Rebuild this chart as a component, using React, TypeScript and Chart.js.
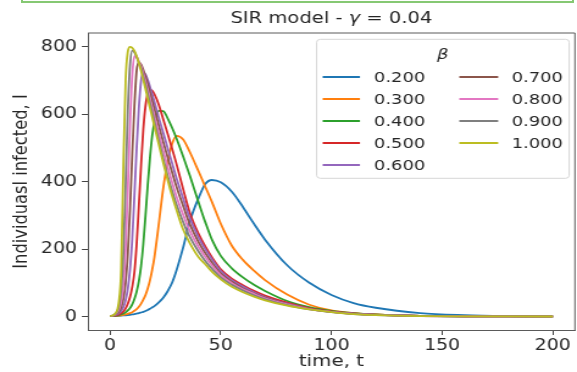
import React, { useEffect, useRef } from "react";
import { Chart, registerables } from "chart.js";

Chart.register(...registerables);

// ---- data ----
const T = [0, 2, 4, 5, 6, 7, 8, 9, 10, 11, 12, 13, 14, 15, 16, 17, 18, 19, 20, 22, 24, 26, 28, 30, 33, 36, 40, 43, 46, 50, 55, 60, 65, 70, 80, 90, 100, 110, 120, 140, 160, 180, 200];

const I_020 = [1, 1.5, 2.2, 2.6, 3.1, 3.7, 4.4, 5.2, 6.2, 7.3, 8.6, 10, 12, 14, 16.5, 19.5, 23, 27, 31, 42, 56, 75, 100, 137, 205, 282, 352, 393, 405, 398, 370, 325, 275, 228, 152, 100, 64, 40, 26, 10, 4, 1.5, 0.6];
const I_030 = [1, 1.7, 2.8, 3.6, 4.7, 6, 7.8, 10, 13, 17, 22, 29, 38, 50, 64, 83, 107, 138, 175, 275, 380, 460, 512, 536, 525, 488, 430, 385, 340, 275, 210, 168, 136, 108, 65, 35, 18, 10, 6, 2, 0.8, 0.3, 0.1];
const I_040 = [1, 2, 4.2, 6, 8.7, 12.4, 18, 25, 36, 52, 74, 105, 150, 215, 300, 390, 470, 535, 575, 610, 609, 588, 560, 528, 475, 418, 338, 280, 228, 180, 143, 116, 94, 76, 46, 28, 17, 10, 6, 2, 0.7, 0.3, 0.1];
const I_050 = [1, 2.5, 6, 9.5, 15, 24, 38, 58, 88, 132, 215, 330, 450, 555, 625, 662, 672, 670, 660, 628, 585, 542, 498, 452, 378, 308, 245, 208, 176, 140, 112, 93, 76, 62, 41, 25, 15, 9, 5.5, 2, 0.8, 0.3, 0.1];
const I_060 = [1, 3, 9.4, 16, 28, 48, 82, 140, 230, 360, 500, 620, 700, 724, 718, 702, 682, 660, 637, 590, 545, 500, 455, 410, 350, 292, 234, 200, 170, 135, 108, 89, 72, 58, 38, 23, 14, 8.5, 5, 1.8, 0.7, 0.3, 0.1];
const I_070 = [1, 3.7, 14, 27, 52, 100, 185, 320, 480, 625, 730, 754, 748, 732, 712, 690, 666, 641, 616, 566, 518, 472, 428, 385, 328, 274, 220, 188, 160, 128, 103, 84, 69, 56, 37, 23, 14, 8, 4.8, 1.7, 0.6, 0.2, 0.1];
const I_080 = [1, 4.6, 21, 45, 96, 200, 380, 570, 715, 772, 770, 756, 742, 720, 697, 672, 646, 620, 594, 542, 492, 444, 398, 355, 302, 254, 206, 177, 152, 123, 99, 81, 67, 54, 36, 22, 13.5, 8, 4.7, 1.6, 0.6, 0.2, 0.1];
const I_090 = [1, 5.6, 31, 80, 190, 390, 610, 745, 789, 784, 770, 753, 735, 711, 686, 660, 633, 606, 578, 522, 468, 418, 373, 332, 280, 236, 192, 165, 142, 116, 94, 77, 63, 51, 34, 21, 13, 7.5, 4.5, 1.5, 0.5, 0.2, 0.1];
const I_100 = [1, 6.8, 46, 140, 450, 700, 785, 800, 797, 788, 772, 752, 728, 702, 675, 647, 619, 592, 565, 510, 456, 405, 358, 316, 258, 218, 176, 155, 133, 110, 88, 72, 59, 48, 32, 21, 13, 7, 4.2, 1.4, 0.5, 0.2, 0.1];

const SERIES = [I_020, I_030, I_040, I_050, I_060, I_070, I_080, I_090, I_100];
const BETA_LABELS = ["0.200", "0.300", "0.400", "0.500", "0.600", "0.700", "0.800", "0.900", "1.000"];
const COLORS = ["#1f77b4", "#ff7f0e", "#2ca02c", "#d62728", "#9467bd", "#8c564b", "#e377c2", "#7f7f7f", "#bcbd22"];
const X_TICKS = [0, 50, 100, 150, 200];
const Y_TICKS = [0, 200, 400, 600, 800];

// ---- layout ----
const CW = 473;
const CH = 372;
const SX = 577 / CW;
const FONT = '"DejaVu Sans", "Liberation Sans", sans-serif';
const TICK_FS = 15.5;
const LABEL_FS = 16.3;
const LEGEND_FS = 14.7;
const TITLE_FS = 16;
const TEXT = "#262626";

export default function App() {
  const ref = useRef<HTMLCanvasElement>(null);

  useEffect(() => {
    const canvas = ref.current!;
    Chart.defaults.font.family = FONT;

    const datasets = SERIES.map((vals, i) => ({
      label: BETA_LABELS[i],
      data: T.map((t, k) => ({ x: t, y: vals[k] })),
      borderColor: COLORS[i],
      backgroundColor: COLORS[i],
      borderWidth: 1.8,
      pointRadius: 0,
      fill: false,
      cubicInterpolationMode: "monotone" as const,
      order: SERIES.length - 1 - i,
    }));

    const decor = {
      id: "decor",
      afterDraw(chart: any) {
        const ctx = chart.ctx as CanvasRenderingContext2D;
        const a = chart.chartArea;
        ctx.save();
        // top & right spines
        ctx.strokeStyle = "#5a5a5a";
        ctx.lineWidth = 1;
        ctx.beginPath();
        ctx.moveTo(a.left, a.top);
        ctx.lineTo(a.right, a.top);
        ctx.lineTo(a.right, a.bottom);
        ctx.stroke();

        // title
        const cx = (a.left + a.right) / 2;
        const parts: [string, string][] = [
          ["SIR model - ", `${TITLE_FS}px ${FONT}`],
          ["\u03b3", `italic ${TITLE_FS}px ${FONT}`],
          [" = 0.04", `${TITLE_FS}px ${FONT}`],
        ];
        let tw = 0;
        for (const [s, f] of parts) { ctx.font = f; tw += ctx.measureText(s).width; }
        let x = cx - tw / 2;
        ctx.fillStyle = TEXT;
        ctx.textAlign = "left";
        ctx.textBaseline = "alphabetic";
        for (const [s, f] of parts) { ctx.font = f; ctx.fillText(s, x, 23); x += ctx.measureText(s).width; }

        // axis labels
        ctx.font = `${LABEL_FS}px ${FONT}`;
        ctx.textAlign = "center";
        ctx.fillText("time, t", cx, 365.5);
        ctx.save();
        ctx.translate(21.5, (a.top + a.bottom) / 2);
        ctx.rotate(-Math.PI / 2);
        ctx.fillText("Individuasl infected, I", 0, 0);
        ctx.restore();

        // legend
        const lx0 = 259.6, ly0 = 39.3, lx1 = 466.6, ly1 = 178.3;
        ctx.beginPath();
        (ctx as any).roundRect(lx0, ly0, lx1 - lx0, ly1 - ly0, 3);
        ctx.fillStyle = "rgba(255,255,255,0.8)";
        ctx.fill();
        ctx.strokeStyle = "#d6d6d6";
        ctx.lineWidth = 1;
        ctx.stroke();
        ctx.fillStyle = TEXT;
        ctx.font = `italic ${LEGEND_FS}px ${FONT}`;
        ctx.textAlign = "center";
        ctx.textBaseline = "middle";
        ctx.fillText("\u03b2", 362.9, 55);
        const rows = [77, 99, 121, 143, 165];
        const cols = [
          { l0: 264.5, l1: 295.1, tx: 306.6 },
          { l0: 376.5, l1: 408.4, tx: 419.4 },
        ];
        ctx.font = `${LEGEND_FS}px ${FONT}`;
        ctx.textAlign = "left";
        BETA_LABELS.forEach((lab, i) => {
          const c = cols[i < 5 ? 0 : 1];
          const y = rows[i < 5 ? i : i - 5];
          ctx.strokeStyle = COLORS[i];
          ctx.lineWidth = 2;
          ctx.beginPath();
          ctx.moveTo(c.l0, y);
          ctx.lineTo(c.l1, y);
          ctx.stroke();
          ctx.fillStyle = TEXT;
          ctx.fillText(lab, c.tx, y + 1);
        });
        ctx.restore();
      },
    };

    const tickFont = { family: FONT, size: TICK_FS };
    const chart = new Chart(canvas, {
      type: "line",
      data: { datasets } as any,
      options: {
        animation: false,
        responsive: false,
        devicePixelRatio: 1,
        events: [],
        layout: { padding: { left: 0, top: 33, right: CW - 471.3, bottom: 0 } },
        plugins: {
          legend: { display: false },
          title: { display: false },
          tooltip: { enabled: false },
        },
        scales: {
          x: {
            type: "linear",
            min: -10,
            max: 210,
            afterFit: (s: any) => { s.height = CH - 330; },
            afterBuildTicks: (s: any) => { s.ticks = X_TICKS.map((v) => ({ value: v })); },
            ticks: { font: tickFont, color: TEXT, padding: 2, autoSkip: false, maxRotation: 0, callback: (v: any) => String(v) },
            grid: { drawOnChartArea: false, drawTicks: true, tickLength: 5, tickColor: "#444" },
            border: { display: true, color: "#5a5a5a", width: 1 },
          },
          y: {
            type: "linear",
            min: -40,
            max: 841,
            afterFit: (s: any) => { s.width = 72.1; },
            afterBuildTicks: (s: any) => { s.ticks = Y_TICKS.map((v) => ({ value: v })); },
            ticks: { font: tickFont, color: TEXT, padding: 4, autoSkip: false, callback: (v: any) => String(v) },
            grid: { drawOnChartArea: false, drawTicks: true, tickLength: 5, tickColor: "#444" },
            border: { display: true, color: "#5a5a5a", width: 1 },
          },
        },
      } as any,
      plugins: [decor],
    });
    return () => chart.destroy();
  }, []);

  return (
    <div style={{ position: "fixed", left: 0, top: 0, width: 577, height: 372, overflow: "hidden", background: "#fff" }}>
      <div style={{ position: "absolute", left: 21, top: -4, width: 549, height: 5, border: "2px solid #86c873", borderTop: "none" }} />
      <div style={{ position: "absolute", left: 0, top: 0, width: CW, height: CH, transform: `scaleX(${SX})`, transformOrigin: "0 0" }}>
        <canvas ref={ref} width={CW} height={CH} style={{ display: "block" }} />
      </div>
    </div>
  );
}
